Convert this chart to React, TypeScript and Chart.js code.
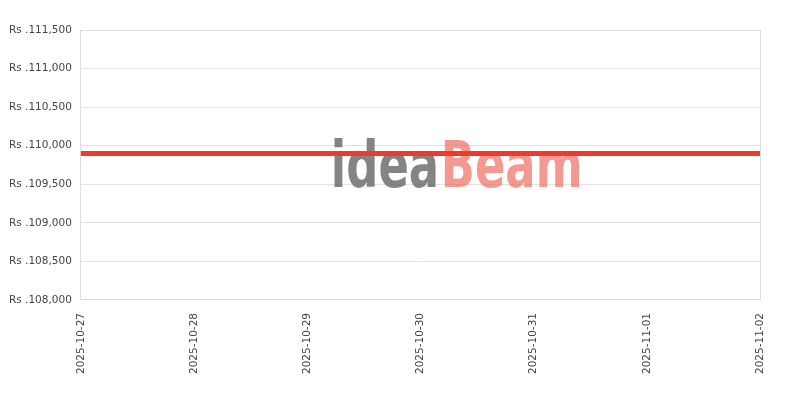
import { useEffect, useRef } from "react";
import { Chart, registerables } from "chart.js";

Chart.register(...registerables);

const dates = [
  "2025-10-27",
  "2025-10-28",
  "2025-10-29",
  "2025-10-30",
  "2025-10-31",
  "2025-11-01",
  "2025-11-02",
];
const prices = [109900, 109900, 109900, 109900, 109900, 109900, 109900];

const yMin = 108000;
const yMax = 111500;
const yStep = 500;

// faint "ideaBeam" watermark behind the data
const watermark = {
  id: "watermark",
  beforeDatasetsDraw(chart: any) {
    const { ctx, chartArea } = chart;
    const left = chartArea.left + 250;
    const base = chartArea.top + 157;
    ctx.save();
    ctx.font = "bold 64px 'DejaVu Sans Condensed', 'DejaVu Sans'";
    ctx.textBaseline = "alphabetic";
    const w1 = ctx.measureText("idea").width;
    const w2 = ctx.measureText("Beam").width;
    const sx = 250 / (w1 + w2);
    ctx.translate(left, base);
    ctx.scale(sx, 1);
    ctx.fillStyle = "rgba(110,110,110,0.85)";
    ctx.fillText("idea", 0, 0);
    ctx.fillStyle = "rgba(240,110,95,0.7)";
    ctx.fillText("Beam", w1 + 2, 0);
    ctx.restore();
  },
};

const tickFont = { family: "'DejaVu Sans'", size: 10.5 };

export default function App() {
  const canvasRef = useRef<HTMLCanvasElement>(null);
  const chartRef = useRef<any>(null);

  useEffect(() => {
    document.body.style.margin = "0";
    if (!canvasRef.current) return;
    const ctx = canvasRef.current.getContext("2d");
    if (!ctx) return;
    if (chartRef.current) chartRef.current.destroy();

    chartRef.current = new Chart(ctx, {
      type: "line",
      data: {
        labels: dates,
        datasets: [
          {
            data: prices,
            borderColor: "#ee3a2b",
            borderWidth: 5,
            pointRadius: 0,
            tension: 0,
            fill: false,
          },
        ],
      },
      options: {
        animation: false,
        responsive: true,
        maintainAspectRatio: false,
        layout: { padding: { top: 30, right: 40, left: 0, bottom: 13 } },
        plugins: {
          legend: { display: false },
          tooltip: { enabled: false },
        },
        scales: {
          x: {
            offset: false,
            grid: {
              drawTicks: false,
              color: (c: any) => (c.index === dates.length - 1 ? "#dddddd" : "rgba(0,0,0,0)"),
            },
            border: { display: true, color: "#dddddd" },
            ticks: {
              minRotation: 90,
              maxRotation: 90,
              padding: 13,
              color: "#444",
              font: tickFont,
            },
          },
          y: {
            min: yMin,
            max: yMax,
            grid: { drawTicks: false, color: "#e2e2e2" },
            border: { display: true, color: "#dddddd" },
            ticks: {
              stepSize: yStep,
              padding: 9,
              color: "#444",
              font: tickFont,
              callback: (v: any) => "Rs ." + Number(v).toLocaleString("en-US"),
            },
          },
        },
      },
      plugins: [watermark],
    });

    return () => chartRef.current?.destroy();
  }, []);

  return (
    <div style={{ position: "relative", width: 800, height: 400 }}>
      <canvas ref={canvasRef} />
    </div>
  );
}
